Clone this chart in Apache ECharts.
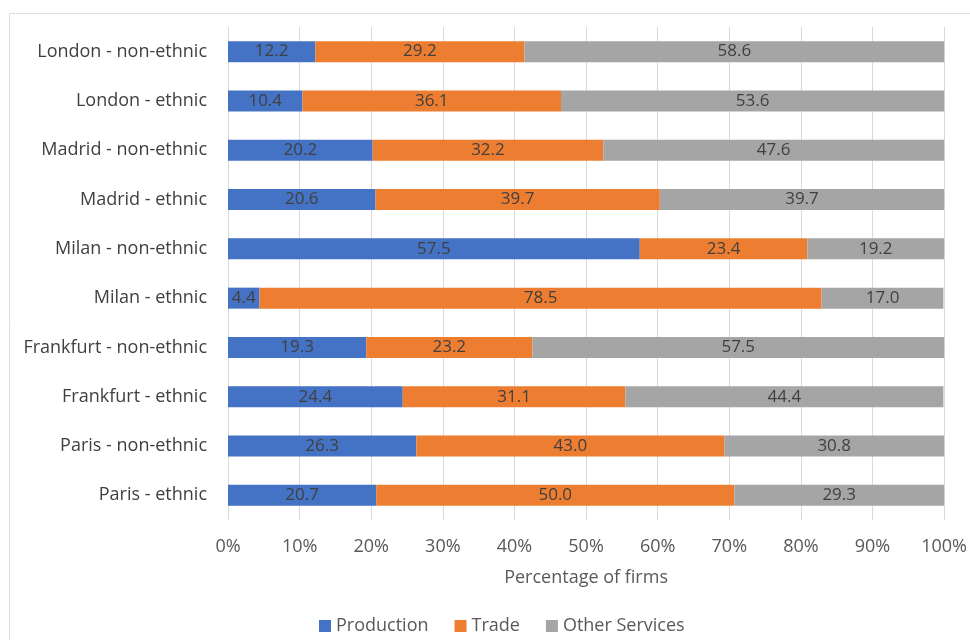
<!DOCTYPE html>
<html>
<head>
<meta charset="utf-8">
<script src="https://cdn.jsdelivr.net/npm/echarts@6/dist/echarts.min.js"></script>
<style>
  html, body { margin: 0; padding: 0; background: #fff; }
  #chart { width: 970px; height: 640px; }
</style>
</head>
<body>
<div id="chart"></div>
<script>
const categories = [
    "London - non-ethnic", "London - ethnic",
    "Madrid - non-ethnic", "Madrid - ethnic",
    "Milan - non-ethnic", "Milan - ethnic",
    "Frankfurt - non-ethnic", "Frankfurt - ethnic",
    "Paris - non-ethnic", "Paris - ethnic"
];
const production = [12.2, 10.4, 20.2, 20.6, 57.5, 4.4, 19.3, 24.4, 26.3, 20.7];
const trade = [29.2, 36.1, 32.2, 39.7, 23.4, 78.5, 23.2, 31.1, 43.0, 50.0];
const otherServices = [58.6, 53.6, 47.6, 39.7, 19.2, 17.0, 57.5, 44.4, 30.8, 29.3];

const font = "Open Sans";
const chart = echarts.init(document.getElementById("chart"));

function barSeries(name, data, color) {
    return {
        name: name,
        type: "bar",
        stack: "total",
        data: data,
        barWidth: 21,
        itemStyle: { color: color },
        label: {
            show: true,
            position: "inside",
            color: "#404040",
            fontFamily: font,
            fontSize: 17,
            formatter: (p) => p.value.toFixed(1),
        },
    };
}

chart.setOption({
    backgroundColor: "#fff",
    animation: false,
    graphic: [{
        type: "rect",
        shape: { x: 9.5, y: 13.5, width: 1000, height: 700 },
        style: { fill: "none", stroke: "#dedede", lineWidth: 1 },
    }],
    grid: { left: 228, right: 25, top: 27, bottom: 120 },
    legend: {
        data: ["Production", "Trade", "Other Services"],
        left: 314,
        top: 612,
        itemWidth: 12,
        itemHeight: 12,
        itemGap: 26,
        icon: "rect",
        textStyle: { color: "#595959", fontFamily: font, fontSize: 18 },
    },
    xAxis: {
        type: "value",
        min: 0,
        max: 100,
        interval: 10,
        name: "Percentage of firms",
        nameLocation: "middle",
        nameGap: 49,
        nameTextStyle: { color: "#595959", fontFamily: font, fontSize: 18 },
        axisLine: { show: false },
        axisTick: { show: false },
        axisLabel: {
            formatter: "{value}%",
            color: "#595959",
            fontFamily: font,
            fontSize: 18,
            margin: 18,
        },
        splitLine: { lineStyle: { color: "#d9d9d9" } },
    },
    yAxis: {
        type: "category",
        data: categories,
        inverse: true,
        axisLine: { show: false },
        axisTick: { show: false },
        axisLabel: {
            color: "#404040",
            fontFamily: font,
            fontSize: 18,
            margin: 21,
        },
    },
    series: [
        barSeries("Production", production, "#4472C4"),
        barSeries("Trade", trade, "#ED7D31"),
        barSeries("Other Services", otherServices, "#A5A5A5"),
    ],
});
</script>
</body>
</html>
